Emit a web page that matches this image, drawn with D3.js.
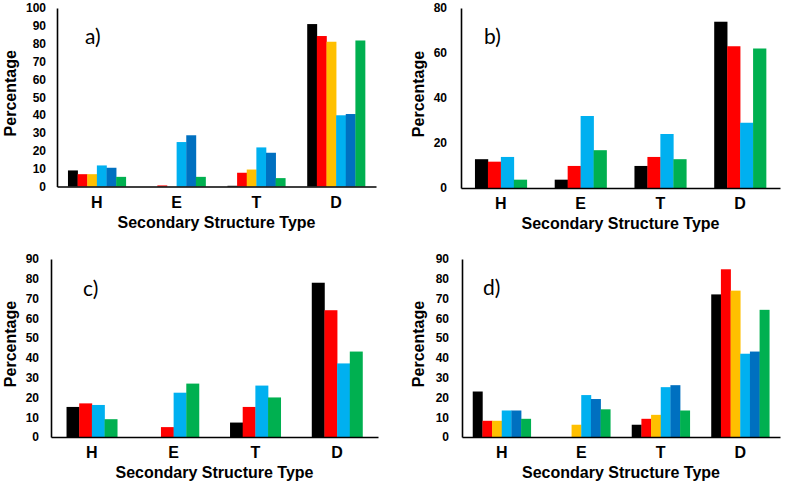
<!DOCTYPE html>
<html><head><meta charset="utf-8">
<script src="https://cdn.jsdelivr.net/npm/d3@7"></script>
<style>body{margin:0;background:#fff}svg{display:block}</style>
</head><body>
<svg id="chart" width="800" height="482"></svg>
<script>
const categories = ["H","E","T","D"];
const seriesColors = {black:"#000000", red:"#ff0000", orange:"#ffc000", lightblue:"#00b0f0", blue:"#0070c0", green:"#00b050"};

// panel a
const aBlack = [9.0, 0, 0.4, 91];
const aRed = [6.9, 0.6, 7.7, 84.3];
const aOrange = [6.9, 0, 9.5, 81.1];
const aLightblue = [11.8, 24.9, 21.9, 39.9];
const aBlue = [10.5, 28.7, 18.9, 40.6];
const aGreen = [5.4, 5.4, 4.7, 81.8];
// panel b
const bBlack = [12.8, 3.7, 9.8, 73.9];
const bRed = [11.7, 9.8, 13.8, 63];
const bLightblue = [13.8, 32, 24, 29];
const bGreen = [3.7, 16.8, 12.8, 62];
// panel c
const cBlack = [15.2, 0, 7.3, 78];
const cRed = [17, 5, 15.2, 64.1];
const cLightblue = [16.2, 22.4, 26, 37.2];
const cGreen = [9, 27, 20, 43.2];
// panel d
const dBlack = [23, 0, 6.2, 72.1];
const dRed = [8.2, 0, 9.2, 84.8];
const dOrange = [8.2, 6.2, 11.2, 74];
const dLightblue = [13.4, 21.2, 25.2, 42.1];
const dBlue = [13.4, 19.2, 26.2, 43.2];
const dGreen = [9.2, 14, 13.4, 64.3];

const aTicks = [0,10,20,30,40,50,60,70,80,90,100];
const bTicks = [0,20,40,60,80];
const cTicks = [0,10,20,30,40,50,60,70,80,90];
const dTicks = [0,10,20,30,40,50,60,70,80,90];

const xTitle = "Secondary Structure Type";
const yTitle = "Percentage";

const panels = [
  {label:"a)", series:[["black",aBlack],["red",aRed],["orange",aOrange],["lightblue",aLightblue],["blue",aBlue],["green",aGreen]],
   ticks:aTicks, x0:57, x1:376, yTop:8, yBase:186.5, pad:0.275, tickGap:11, yTitleX:10, labelX:85, labelY:44},
  {label:"b)", series:[["black",bBlack],["red",bRed],["lightblue",bLightblue],["green",bGreen]],
   ticks:bTicks, x0:461, x1:780, yTop:8, yBase:188, pad:0.35, tickGap:14, yTitleX:418, labelX:484, labelY:44},
  {label:"c)", series:[["black",cBlack],["red",cRed],["lightblue",cLightblue],["green",cGreen]],
   ticks:cTicks, x0:51, x1:378, yTop:259, yBase:437, pad:0.38, tickGap:12, yTitleX:10, labelX:83, labelY:296},
  {label:"d)", series:[["black",dBlack],["red",dRed],["orange",dOrange],["lightblue",dLightblue],["blue",dBlue],["green",dGreen]],
   ticks:dTicks, x0:462, x1:780, yTop:259, yBase:437, pad:0.27, tickGap:13, yTitleX:418, labelX:483, labelY:295}
];

const svg = d3.select("#chart");
const font = "'Liberation Sans', Arial, sans-serif";

panels.forEach(p => {
  const g = svg.append("g");
  const yMax = p.ticks[p.ticks.length-1];
  const y = d3.scaleLinear().domain([0, yMax]).range([p.yBase, p.yTop]);
  const x = d3.scaleBand().domain(categories).range([p.x0, p.x1]).paddingInner(p.pad).paddingOuter(p.pad/2);
  const xs = d3.scaleBand().domain(p.series.map(s => s[0])).range([0, x.bandwidth()]).padding(0);

  // bars
  p.series.forEach(([name, vals]) => {
    g.append("g").selectAll("rect").data(categories.map((c,i)=>({c, v:vals[i]})))
      .join("rect")
      .attr("x", d => x(d.c) + xs(name))
      .attr("width", xs.bandwidth() + 0.3)
      .attr("y", d => y(d.v))
      .attr("height", d => p.yBase - y(d.v))
      .attr("fill", seriesColors[name]);
  });

  // y axis
  const ya = g.append("g").attr("transform", `translate(${p.x0},0)`)
    .call(d3.axisLeft(y).tickValues(p.ticks).tickSize(0).tickPadding(p.tickGap).tickFormat(d3.format("d")));
  ya.select(".domain").attr("stroke","#000").attr("stroke-width",1.6);
  ya.selectAll("text").attr("font-family",font).attr("font-weight","bold").attr("font-size","12px").attr("fill","#000");

  // x axis
  const xa = g.append("g").attr("transform", `translate(0,${p.yBase})`)
    .call(d3.axisBottom(x).tickSize(0).tickPadding(10));
  xa.select(".domain").attr("stroke","#000").attr("stroke-width",1.6);
  xa.selectAll("text").attr("font-family",font).attr("font-weight","bold").attr("font-size","16px").attr("fill","#000");

  // x title
  g.append("text").attr("x",(p.x0+p.x1)/2).attr("y",p.yBase+41)
    .attr("text-anchor","middle").attr("font-family",font).attr("font-weight","bold").attr("font-size","16px")
    .text(xTitle);
  // y title
  g.append("text").attr("transform",`translate(${p.yTitleX},${(p.yTop+p.yBase)/2-4}) rotate(-90)`)
    .attr("text-anchor","middle").attr("dominant-baseline","central")
    .attr("font-family",font).attr("font-weight","bold").attr("font-size","16px")
    .text(yTitle);
  // panel label
  g.append("text").attr("x",p.labelX).attr("y",p.labelY)
    .attr("font-family","Lato, 'Open Sans', sans-serif").attr("font-size","21px").attr("fill","#000")
    .text(p.label);
});
</script>
</body></html>
